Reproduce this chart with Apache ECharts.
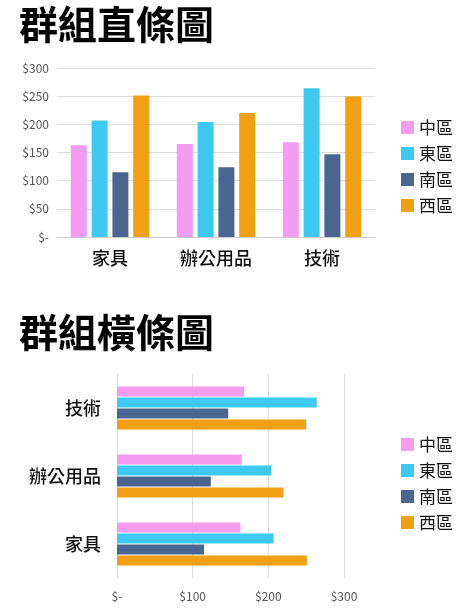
<!DOCTYPE html>
<html><head><meta charset="utf-8">
<script src="https://cdn.jsdelivr.net/npm/echarts@6/dist/echarts.min.js"></script>
<style>html,body{margin:0;padding:0;background:#fff}#c{width:463px;height:610px}</style>
</head><body><div id="c"></div>
<script>
const categories = ['家具', '辦公用品', '技術'];
const seriesNames = ['中區', '東區', '南區', '西區'];
const central = [163, 165, 168];
const east = [207, 204, 264];
const south = [115, 124, 147];
const west = [251, 220, 250];
const yTicks = [0, 50, 100, 150, 200, 250, 300];
const colors = ['#f59cf0', '#3ec9f3', '#4b6591', '#f0a012'];
const values = [central, east, south, west];
const font = 'Noto Sans CJK TC';
const fmt = v => v === 0 ? '$-' : '$' + v;
const chart = echarts.init(document.getElementById('c'));
const vSeries = seriesNames.map((n, i) => ({
  name: n, type: 'bar', xAxisIndex: 0, yAxisIndex: 0, data: values[i],
  barWidth: 16, barGap: '30%', itemStyle: { color: colors[i] }
}));
const hSeries = seriesNames.map((n, i) => ({
  name: n, type: 'bar', xAxisIndex: 1, yAxisIndex: 1, data: values[i].slice().reverse(),
  barWidth: 10, barGap: '10%', itemStyle: { color: colors[i] }
}));
const legendCommon = {
  orient: 'vertical', left: 396, itemWidth: 13, itemHeight: 13, itemGap: 9,
  icon: 'rect', textStyle: { fontFamily: font, fontSize: 17, color: '#111' }, data: seriesNames
};
chart.setOption({
  animation: false,
  textStyle: { fontFamily: font },
  title: [
    { text: '群組直條圖', left: 14, top: 0, textStyle: { fontFamily: font, fontSize: 39, fontWeight: 'bold', color: '#000' } },
    { text: '群組橫條圖', left: 14, top: 308, textStyle: { fontFamily: font, fontSize: 39, fontWeight: 'bold', color: '#000' } }
  ],
  legend: [
    Object.assign({ top: 114 }, legendCommon),
    Object.assign({ top: 431 }, legendCommon)
  ],
  grid: [
    { left: 57, top: 68, width: 318, height: 169 },
    { left: 117, top: 374, width: 227, height: 204 }
  ],
  xAxis: [
    { type: 'category', gridIndex: 0, data: categories, axisTick: { show: false },
      axisLine: { lineStyle: { color: '#ccc' } },
      axisLabel: { fontSize: 18, fontWeight: 500, color: '#111', margin: 12 } },
    { type: 'value', gridIndex: 1, min: 0, max: 300, interval: 100,
      axisLabel: { formatter: fmt, fontSize: 12, color: '#555', margin: 12 },
      splitLine: { lineStyle: { color: '#ddd' } } }
  ],
  yAxis: [
    { type: 'value', gridIndex: 0, min: 0, max: 300, interval: 50,
      axisLabel: { formatter: fmt, fontSize: 12, color: '#555' },
      splitLine: { lineStyle: { color: '#ddd' } } },
    { type: 'category', gridIndex: 1, data: categories.slice().reverse(), inverse: true,
      axisTick: { show: false }, axisLine: { show: false },
      axisLabel: { fontSize: 18, fontWeight: 500, color: '#111', margin: 16 } }
  ],
  series: vSeries.concat(hSeries)
});
</script></body></html>
